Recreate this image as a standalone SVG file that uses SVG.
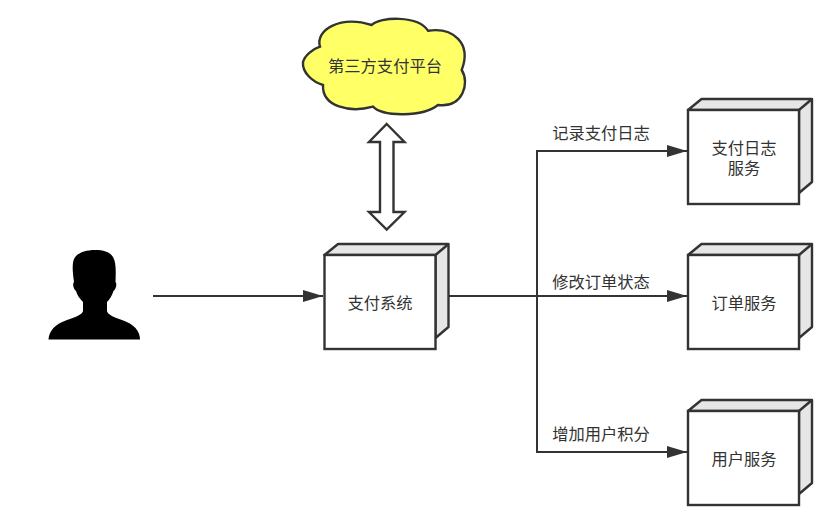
<svg xmlns="http://www.w3.org/2000/svg" width="829" height="516" viewBox="0 0 829 516">
  <style>
    text { font-family: "Noto Sans CJK SC", "Liberation Sans", sans-serif; font-size: 16.300px; fill: #333; text-anchor: middle; }
    .line { fill: none; stroke: #333; stroke-width: 2; }
    .front { fill: #fff; stroke: #333; stroke-width: 2.400; }
    .side { fill: #e6e6e6; stroke: #333; stroke-width: 2.400; stroke-linejoin: round; }
  </style>
  <defs>
    <marker id="arrow" markerUnits="userSpaceOnUse" markerWidth="22" markerHeight="14" refX="20" refY="7" orient="auto">
      <path d="M0 1 L20 7 L0 13 Z" fill="#333"/>
    </marker>
    <g id="cube">
      <path class="side" d="M0 11 L13.500 0 H124 V83 L111 94 V11 H0 Z"/>
      <path class="side" d="M111 11 L124 0"/>
      <rect class="front" x="0" y="11" width="111" height="94"/>
    </g>
  </defs>
  <rect width="829" height="516" fill="#fff"/>

  <g id="connectors">
    <path class="line" d="M153 296 H323" marker-end="url(#arrow)"/>
    <path class="line" d="M448 296 H687" marker-end="url(#arrow)"/>
    <path class="line" d="M537 296 V151 H687" marker-end="url(#arrow)"/>
    <path class="line" d="M537 296 V452 H687" marker-end="url(#arrow)"/>
    <path d="M386.700 124 L404.500 142 H393.500 V212 H404.500 L386.700 229.500 L369 212 H380 V142 H369 Z" fill="#fff" stroke="#333" stroke-width="2.400"/>
    <text x="601" y="139">记录支付日志</text>
    <text x="601" y="288">修改订单状态</text>
    <text x="601" y="440">增加用户积分</text>
  </g>

  <g id="user">
    <path d="M95 250 C104 250 110 252 113 257 C116 262 116 270 115.500 282 C117 283 116.500 289 113.500 291 C112 296 109 300 107 302 L107 311 C108 315 114 317 122 320 C134 324 140 331 140 339.500 H48.500 C49 331 55 324 67 320 C75 317 82 315 83 311 L83 302 C80 299 77 295 76 291 C73 289 72.500 283 74 282 C72 268 72 260 76 256 C80 252 87 250 95 250 Z" fill="#000"/>
  </g>

  <g id="platform">
    <path d="M320 46.700 C315 30 340 15 371.700 25 C380 16.700 418 15 428 30.700 C453 27 472 43 461.700 70 C470 83 463 108 438 105 C423 117 383 117 373 106.700 C350 113 322 107 323 85 C313 82 302 73 303 62 C305 55 313 49 320 46.700 Z" fill="#ffff66" stroke="#333" stroke-width="2.400"/>
    <text x="385" y="72">第三方支付平台</text>
  </g>

  <g id="payment-system">
    <use href="#cube" x="324.500" y="244"/>
    <text x="380" y="309">支付系统</text>
  </g>
  <g id="log-service">
    <use href="#cube" x="688" y="99"/>
    <text x="744" y="154">支付日志<tspan x="744" dy="20">服务</tspan></text>
  </g>
  <g id="order-service">
    <use href="#cube" x="688" y="244"/>
    <text x="744" y="309">订单服务</text>
  </g>
  <g id="user-service">
    <use href="#cube" x="688" y="400"/>
    <text x="744" y="465">用户服务</text>
  </g>
</svg>
